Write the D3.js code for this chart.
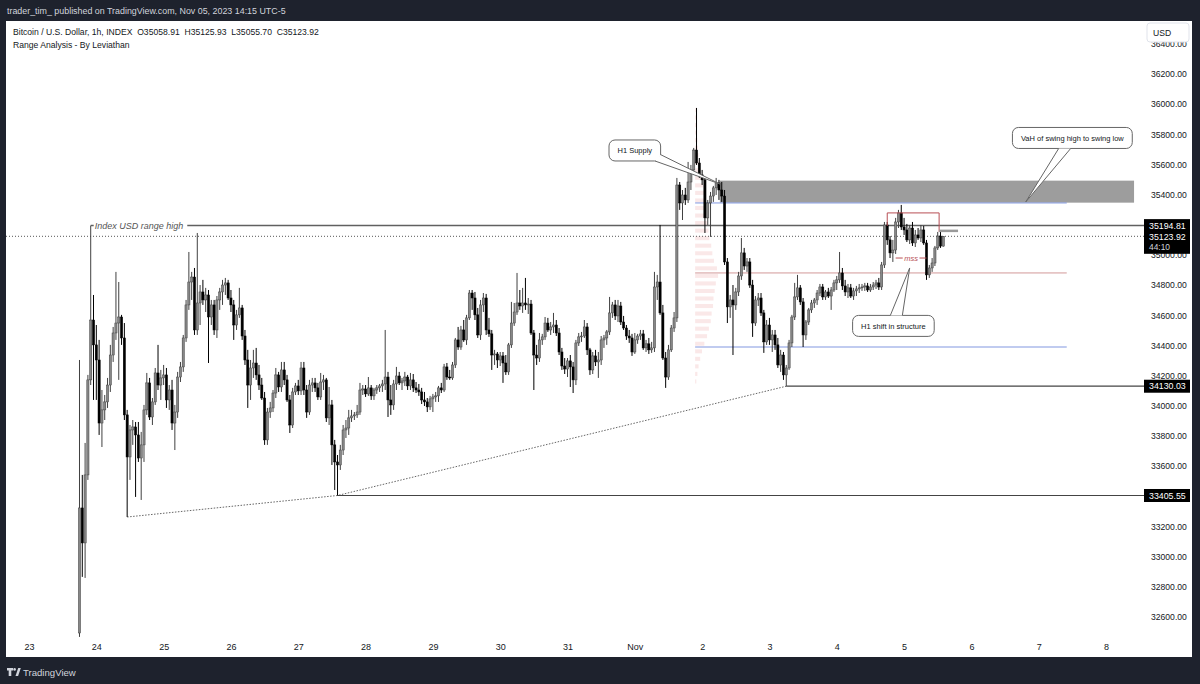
<!DOCTYPE html>
<html>
<head>
<meta charset="utf-8">
<script src="https://cdn.jsdelivr.net/npm/d3@7/dist/d3.min.js"></script>
<style>
  body { margin: 0; background: #1e222d; }
  svg { display: block; font-family: "Liberation Sans", Arial, sans-serif; }
</style>
</head>
<body>
<script>
// hourly candles [open, high, low, close], first one opens Oct 23 18:00 (chart time, UTC-5)
const firstCandle = "2023-10-23T18:00Z"
const ohlc = [
  [32494,34304,32468,33323],[33323,33542,32866,33091],[33091,33754,32859,33542],[33542,34205,33509,34172],[34172,35194.81,34138,34569],[34569,34735,34039,34404],
  [34404,34536,34039,34304],[34304,34437,33807,33886],[33886,34105,33727,33973],[33973,34072,33906,34026],[34026,34185,33986,34138],[34138,34404,34092,34337],
  [34337,34523,34291,34483],[34483,34888,34437,34549],[34549,34821,34172,34589],[34589,34603,34404,34450],[34450,34549,33906,33940],[33940,33973,33263,33661],
  [33661,33873,33509,33840],[33840,33906,33741,33860],[33860,33893,33396,33807],[33807,33893,33628,33654],[33654,33827,33376,33741],[33741,34006,33628,33973],
  [33973,34218,33940,34152],[34152,34185,33906,33926],[33926,34052,33873,34026],[34026,34251,34006,34218],[34218,34404,34105,34138],[34138,34238,34039,34185],
  [34185,34271,34138,34205],[34205,34251,33986,34039],[34039,34138,33973,34105],[34105,34172,33840,33886],[33886,34006,33707,33959],[33959,34225,33920,34191],
  [34191,34291,34158,34258],[34258,34470,34225,34450],[34450,34702,34424,34669],[34669,35020,34636,34821],[34821,34888,34702,34854],[34854,34914,34470,34503],
  [34503,35146,34470,34682],[34682,34801,34536,34755],[34755,34835,34669,34702],[34702,34782,34622,34735],[34735,34768,34284,34589],[34589,34702,34536,34669],
  [34669,34702,34470,34503],[34503,34728,34450,34702],[34702,34782,34636,34755],[34755,34835,34669,34801],[34801,34848,34735,34815],[34815,34835,34702,34715],
  [34715,34768,34622,34669],[34669,34702,34437,34536],[34536,34636,34503,34603],[34603,34782,34583,34649],[34649,34669,34437,34463],[34463,34503,34271,34304],
  [34304,34371,33986,34138],[34138,34304,34039,34251],[34251,34371,34185,34284],[34284,34384,34172,34205],[34205,34271,34105,34138],[34138,34185,34039,34052],
  [34052,34092,33741,33774],[33774,33986,33741,33959],[33959,34026,33920,33986],[33986,34105,33959,34085],[34085,34251,34052,34205],[34205,34225,34092,34125],
  [34125,34291,34092,34238],[34238,34291,34138,34172],[34172,34205,34026,34039],[34039,34072,33820,33873],[33873,34119,33853,34092],[34092,34152,34072,34132],
  [34132,34172,34072,34099],[34099,34291,34072,34251],[34251,34291,34072,34105],[34105,34138,33920,33959],[33959,34172,33940,34138],[34138,34185,34092,34152],
  [34152,34185,34092,34119],[34119,34152,34039,34059],[34059,34218,34039,34158],[34158,34205,34105,34172],[34172,34185,33893,33920],[33920,34125,33873,34006],
  [34006,34039,33608,33741],[33741,33774,33442,33628],[33628,33674,33405.55,33608],[33608,33741,33575,33707],[33707,33873,33674,33840],[33840,33906,33787,33853],
  [33853,33973,33807,33920],[33920,33973,33893,33933],[33933,33959,33906,33940],[33940,34006,33920,33959],[33959,34152,33940,34105],[34105,34138,34072,34112],
  [34112,34138,34059,34079],[34079,34191,34066,34119],[34119,34138,34039,34066],[34066,34119,34039,34105],[34105,34138,34079,34119],[34119,34145,34092,34132],
  [34132,34172,34092,34145],[34145,34503,34105,34191],[34191,34225,33926,34039],[34039,34138,33940,34006],[34006,34172,33973,34145],[34145,34258,34105,34198],
  [34198,34225,34138,34152],[34152,34185,34105,34165],[34165,34225,34132,34191],[34191,34205,34105,34132],[34132,34218,34105,34172],[34172,34211,34092,34119],
  [34119,34158,34085,34105],[34105,34145,34066,34092],[34092,34119,34012,34039],[34039,34092,33999,34026],[34026,34052,33959,33993],[33993,34066,33973,34046],
  [34046,34079,33959,34059],[34059,34092,34026,34066],[34066,34132,34026,34119],[34119,34152,34085,34105],[34105,34278,34092,34258],[34258,34284,34172,34191],
  [34191,34238,34172,34185],[34185,34291,34172,34271],[34271,34450,34251,34437],[34437,34523,34371,34390],[34390,34530,34371,34503],[34503,34569,34424,34437],
  [34437,34603,34404,34583],[34583,34768,34569,34748],[34748,34768,34636,34715],[34715,34755,34569,34603],[34603,34649,34450,34470],[34470,34702,34437,34669],
  [34669,34748,34622,34715],[34715,34742,34470,34503],[34503,34583,34457,34477],[34477,34503,34238,34337],[34337,34371,34271,34344],[34344,34357,34251,34304],
  [34304,34357,34264,34331],[34331,34357,34152,34284],[34284,34337,34205,34225],[34225,34417,34205,34404],[34404,34689,34384,34549],[34549,34682,34530,34622],
  [34622,34881,34603,34682],[34682,34768,34636,34662],[34662,34782,34616,34682],[34682,34848,34636,34669],[34669,34715,34609,34675],[34675,34702,34470,34483],
  [34483,34503,34105,34337],[34337,34404,34271,34317],[34317,34483,34291,34437],[34437,34477,34404,34457],[34457,34589,34437,34549],[34549,34583,34490,34503],
  [34503,34556,34470,34523],[34523,34616,34483,34536],[34536,34569,34463,34483],[34483,34516,34337,34357],[34357,34384,34238,34264],[34264,34317,34211,34244],
  [34244,34317,34191,34298],[34298,34337,34125,34258],[34258,34291,34085,34172],[34172,34437,34138,34417],[34417,34483,34397,34457],[34457,34490,34424,34463],
  [34463,34569,34450,34523],[34523,34549,34337,34371],[34371,34384,34205,34238],[34238,34357,34211,34331],[34331,34371,34264,34291],[34291,34357,34185,34304],
  [34304,34463,34271,34437],[34437,34470,34384,34450],[34450,34503,34404,34490],[34490,34722,34470,34616],[34616,34689,34583,34669],[34669,34702,34569,34596],
  [34596,34702,34556,34662],[34662,34689,34536,34556],[34556,34596,34503,34516],[34516,34536,34437,34463],[34463,34503,34417,34450],[34450,34477,34331,34357],
  [34357,34483,34344,34437],[34437,34477,34411,34463],[34463,34503,34437,34477],[34477,34503,34371,34384],[34384,34437,34357,34411],[34411,34450,34344,34371],
  [34371,34424,34351,34384],[34384,34888,34357,34788],[34788,34868,34702,34821],[34821,35199,34603,34616],[34616,34669,34304,34317],[34317,34357,34119,34191],
  [34191,34404,34172,34371],[34371,34536,34357,34516],[34516,34622,34490,34583],[34583,35511,34556,35464],[35464,35484,35299,35345],[35345,35431,35232,35398],
  [35398,35445,35332,35365],[35365,35617,35345,35484],[35484,35597,35431,35564],[35564,35710,35531,35696],[35696,35975,35597,35610],[35610,35643,35511,35531],
  [35531,35564,35464,35498],[35498,35511,35146,35246],[35246,35365,35199,35345],[35345,35418,35120,35391],[35391,35458,35352,35445],[35445,35511,35398,35478],
  [35478,35498,35365,35431],[35431,35484,35352,35391],[35391,35431,34934,34954],[34954,34980,34549,34656],[34656,34735,34583,34702],[34702,34801,34337,34669],
  [34669,34782,34636,34755],[34755,34888,34728,34861],[34861,35113,34835,35014],[35014,35047,34901,34927],[34927,34980,34888,34954],[34954,34980,34782,34801],
  [34801,34835,34457,34549],[34549,34728,34530,34702],[34702,34748,34662,34715],[34715,34748,34596,34616],[34616,34636,34351,34424],[34424,34569,34404,34536],
  [34536,34583,34404,34437],[34437,34503,34357,34470],[34470,34503,34371,34404],[34404,34450,34251,34271],[34271,34371,34225,34337],[34337,34357,34172,34205],
  [34205,34271,34130.03,34251],[34251,34437,34238,34417],[34417,34603,34390,34589],[34589,34815,34569,34722],[34722,34868,34702,34782],[34782,34801,34669,34689],
  [34689,34715,34390,34470],[34470,34569,34437,34556],[34556,34649,34536,34636],[34636,34702,34616,34682],[34682,34715,34649,34702],[34702,34768,34669,34748],
  [34748,34808,34728,34788],[34788,34808,34702,34722],[34722,34768,34702,34755],[34755,34782,34715,34728],[34728,34788,34636,34768],[34768,34835,34755,34815],
  [34815,34861,34768,34835],[34835,35020,34815,34881],[34881,34914,34768,34795],[34795,34835,34728,34755],[34755,34808,34715,34782],[34782,34808,34715,34728],
  [34728,34782,34702,34762],[34762,34795,34728,34775],[34775,34808,34748,34782],[34782,34808,34762,34788],[34788,34815,34762,34795],[34795,34815,34755,34768],
  [34768,34808,34755,34788],[34788,34821,34768,34801],[34801,34835,34775,34815],[34815,34848,34768,34788],[34788,34954,34768,34934],[34934,35219,34914,35199],
  [35199,35219,35067,35100],[35100,35126,34980,35014],[35014,35100,34954,35033],[35033,35246,35007,35219],[35219,35299,35179,35279],[35279,35332,35166,35186],
  [35186,35246,35133,35166],[35166,35206,35086,35100],[35100,35199,35073,35179],[35179,35219,35060,35080],[35080,35166,35053,35133],[35133,35179,35100,35113],
  [35113,35199,35086,35166],[35166,35193,35067,35080],[35080,35100,34835,34868],[34868,34934,34848,34914],[34914,34980,34888,34947],[34947,35060,34927,35047],
  [35047,35153,35033,35126],[35126,35153,35047,35059],[35058.91,35125.93,35055.70,35123.92]
]

const dayTicks = ["2023-10-23", "2023-10-24", "2023-10-25", "2023-10-26", "2023-10-27", "2023-10-28", "2023-10-29", "2023-10-30",
  "2023-10-31", "2023-11-01", "2023-11-02", "2023-11-03", "2023-11-04", "2023-11-05", "2023-11-06", "2023-11-07", "2023-11-08"]
const dayLabels = ["23", "24", "25", "26", "27", "28", "29", "30", "31", "Nov", "2", "3", "4", "5", "6", "7", "8"]
const priceTicks = [32600, 32800, 33000, 33200, 33400, 33600, 33800, 34000, 34200, 34400, 34600,
  34800, 35000, 35200, 35400, 35600, 35800, 36000, 36200, 36400]

const rangeHigh = {t: "2023-10-23T22:00Z", p: 35194.81, label: "Index USD range high"}
const lastPrice = 35123.92
const swingLows = [
  {t: "2023-10-24T11:00Z", p: 33263},
  {t: "2023-10-27T14:00Z", p: 33405.55},
  {t: "2023-11-03T06:00Z", p: 34130.03}
]
const supply = {from: "2023-11-02T06:20Z", to: "2023-11-08T10:00Z", top: 35493, bottom: 35347}
const valueArea = {from: "2023-11-01T21:30Z", to: "2023-11-07T10:00Z", vah: 35345, poc: 34881, val: 34390}
const vpPrices = [35950, 35900, 35850, 35800, 35750, 35700, 35650, 35600, 35550, 35500, 35450, 35400, 35350,
  35300, 35250, 35200, 35150, 35100, 35050, 35000, 34950, 34900, 34850, 34800, 34750, 34700, 34650,
  34600, 34550, 34500, 34450, 34400, 34350, 34300, 34250, 34200, 34150]
const vpVolumes = [3, 5, 6, 8, 10, 12, 15, 18, 22, 28, 35, 38, 42, 40, 45, 52, 58, 62, 70, 75, 82, 95, 100,
  90, 85, 80, 78, 72, 68, 60, 52, 40, 30, 22, 15, 10, 5]
const mssBox = {from: "2023-11-04T18:00Z", to: "2023-11-05T12:30Z", top: 35279, leftEnd: 35193, rightEnd: 35153}
const mss = {from: "2023-11-04T21:00Z", to: "2023-11-05T08:00Z", p: 34980, label: "mss"}
const projection = {from: "2023-11-05T12:30Z", to: "2023-11-05T19:15Z", p: 35160}
const callouts = [
  {text: "H1 Supply", t: "2023-11-01T00:00Z", p: 35693, tipT: "2023-11-02T06:20Z", tipP: 35471},
  {text: "VaH of swing high to swing low", t: "2023-11-07T12:00Z", p: 35776, tipT: "2023-11-06T19:24Z", tipP: 35352},
  {text: "H1 shift in structure", t: "2023-11-04T20:12Z", p: 34530, tipT: "2023-11-05T02:00Z", tipP: 34914}
]
const priceTags = [
  {p: 35194.81, text: "35194.81"},
  {p: 35123.92, text: "35123.92", sub: "44:10"},
  {p: 34130.03, text: "34130.03"},
  {p: 33405.55, text: "33405.55"}
]

const W = 1200, H = 684
const panel = {l: 6, t: 21, r: 1192, b: 657}
const plotR = 1144
const hour = 3600e3
const dt = s => new Date(s)

const svg = d3.select("body").append("svg").attr("width", W).attr("height", H)

svg.append("rect").attr("width", W).attr("height", H).attr("fill", "#1e222d")
svg.append("rect")
  .attr("x", panel.l).attr("y", panel.t)
  .attr("width", panel.r - panel.l).attr("height", panel.b - panel.t)
  .attr("fill", "#fff")

const x = d3.scaleUtc()
  .domain([dt("2023-10-23T00:00Z"), dt("2023-11-08T00:00Z")])
  .range([29, 1106])
const y = d3.scaleLinear()
  .domain([32600, 36200])
  .range([617, 74])

const candles = ohlc.map((d, i) => ({t: new Date(+dt(firstCandle) + i * hour), o: d[0], h: d[1], l: d[2], c: d[3]}))

// volume profile + value area
const vpW = d3.scaleLinear().domain([0, 100]).range([0, 23])
svg.append("g")
  .selectAll("rect")
  .data(vpPrices)
  .join("rect")
  .attr("x", x(dt(valueArea.from)))
  .attr("y", d => y(d + 25))
  .attr("height", d => y(d - 25) - y(d + 25) - 3.5)
  .attr("width", (d, i) => vpW(vpVolumes[i]))
  .attr("fill", "#f2c6c6")
  .attr("opacity", 0.4)

svg.append("rect")
  .attr("x", x(dt(supply.from)))
  .attr("y", y(supply.top))
  .attr("width", x(dt(supply.to)) - x(dt(supply.from)))
  .attr("height", y(supply.bottom) - y(supply.top))
  .attr("fill", "#9d9d9d")

const vaLines = [
  {p: valueArea.vah, color: "#8197e0"},
  {p: valueArea.poc, color: "#d29898"},
  {p: valueArea.val, color: "#8197e0"}
]
svg.append("g")
  .selectAll("line")
  .data(vaLines)
  .join("line")
  .attr("x1", x(dt(valueArea.from))).attr("x2", x(dt(valueArea.to)))
  .attr("y1", d => y(d.p)).attr("y2", d => y(d.p))
  .attr("stroke", d => d.color)
  .attr("stroke-width", 1)

// trend line through the swing lows
const lowLine = d3.line().x(d => x(dt(d.t))).y(d => y(d.p))
svg.append("path")
  .attr("d", lowLine(swingLows))
  .attr("fill", "none")
  .attr("stroke", "#666")
  .attr("stroke-width", 1)
  .attr("stroke-dasharray", "1.5,1.5")

// horizontal rays from the last two lows
svg.append("g")
  .selectAll("line")
  .data(swingLows.slice(1))
  .join("line")
  .attr("x1", d => x(dt(d.t))).attr("x2", plotR)
  .attr("y1", d => y(d.p)).attr("y2", d => y(d.p))
  .attr("stroke", "#444")
  .attr("stroke-width", 1.2)

svg.append("line")
  .attr("x1", panel.l).attr("x2", plotR)
  .attr("y1", y(lastPrice)).attr("y2", y(lastPrice))
  .attr("stroke", "#555")
  .attr("stroke-dasharray", "1,2")

svg.append("line")
  .attr("x1", x(dt(rangeHigh.t))).attr("x2", plotR)
  .attr("y1", y(rangeHigh.p)).attr("y2", y(rangeHigh.p))
  .attr("stroke", "#606060")
  .attr("stroke-width", 1.5)

// candles
const cg = svg.append("g")
cg.selectAll("line")
  .data(candles)
  .join("line")
  .attr("x1", d => x(d.t)).attr("x2", d => x(d.t))
  .attr("y1", d => y(d.h)).attr("y2", d => y(d.l))
  .attr("stroke", d => d.c >= d.o ? "#404040" : "#000")
  .attr("stroke-width", 1)

cg.selectAll("rect")
  .data(candles)
  .join("rect")
  .attr("x", d => x(d.t) - 1.1)
  .attr("width", 2.2)
  .attr("y", d => y(Math.max(d.o, d.c)))
  .attr("height", d => Math.max(0.8, Math.abs(y(d.o) - y(d.c))))
  .attr("fill", d => d.c >= d.o ? "#878787" : "#000")
  .attr("stroke", d => d.c >= d.o ? "#404040" : "#000")
  .attr("stroke-width", 0.5)

// range high label sits on its own line
const rhx = x(dt(rangeHigh.t)) + 3
const rhText = svg.append("text")
  .attr("x", rhx + 1).attr("y", y(rangeHigh.p) + 3)
  .attr("font-size", 9)
  .attr("font-style", "italic")
  .attr("fill", "#555")
  .text(rangeHigh.label)
const rhW = rhText.node().getComputedTextLength()
svg.insert("rect", "text")
  .attr("x", rhx).attr("y", y(rangeHigh.p) - 3)
  .attr("width", rhW + 5).attr("height", 6)
  .attr("fill", "#fff")

// mss drawing
const mssColor = "#b84f55"
svg.append("path")
  .attr("d", `M${x(dt(mssBox.from))},${y(mssBox.leftEnd)}V${y(mssBox.top)}H${x(dt(mssBox.to))}V${y(mssBox.rightEnd)}`)
  .attr("fill", "none")
  .attr("stroke", mssColor)
  .attr("stroke-width", 1)
svg.append("line")
  .attr("x1", x(dt(mssBox.to))).attr("x2", x(dt(projection.to)))
  .attr("y1", y(projection.p)).attr("y2", y(projection.p))
  .attr("stroke", "#9a9a9a")
  .attr("stroke-width", 2.5)

const mx1 = x(dt(mss.from)), mx2 = x(dt(mss.to)), my = y(mss.p)
svg.append("line")
  .attr("x1", mx1).attr("x2", mx2)
  .attr("y1", my).attr("y2", my)
  .attr("stroke", mssColor)
const mssText = svg.append("text")
  .attr("x", (mx1 + mx2) / 2).attr("y", my + 2.5)
  .attr("text-anchor", "middle")
  .attr("font-size", 7.5)
  .attr("font-style", "italic")
  .attr("fill", mssColor)
  .text(mss.label)
const mw = mssText.node().getComputedTextLength()
svg.insert("rect", "text:last-of-type")
  .attr("x", (mx1 + mx2) / 2 - mw / 2 - 1.5).attr("y", my - 3)
  .attr("width", mw + 3).attr("height", 6)
  .attr("fill", "#fff")

// callouts
const tailBase = (cx, cy, hw, hh, dx, dy) => {
  const tX = hw / Math.abs(dx || 1e-9), tY = hh / Math.abs(dy || 1e-9)
  const pts = []
  if (tX < tY) {
    const ex = cx + Math.sign(dx) * hw, py = cy + dy * tX
    for (const o of [-6, 6]) {
      let yy = py + o, xx = ex
      if (yy > cy + hh) { xx = ex - Math.sign(dx) * (yy - cy - hh); yy = cy + hh }
      if (yy < cy - hh) { xx = ex - Math.sign(dx) * (cy - hh - yy); yy = cy - hh }
      pts.push([xx, yy])
    }
  } else {
    const ey = cy + Math.sign(dy) * hh, px = cx + dx * tY
    for (const o of [-6, 6]) {
      let xx = px + o, yy = ey
      if (xx > cx + hw) { yy = ey - Math.sign(dy) * (xx - cx - hw); xx = cx + hw }
      if (xx < cx - hw) { yy = ey - Math.sign(dy) * (cx - hw - xx); xx = cx - hw }
      pts.push([xx, yy])
    }
  }
  return pts
}

callouts.forEach(c => {
  const cx = x(dt(c.t)), cy = y(c.p)
  const tx = x(dt(c.tipT)), ty = y(c.tipP)
  const g = svg.append("g")
  const label = g.append("text")
    .attr("x", cx).attr("y", cy + 2.7)
    .attr("text-anchor", "middle")
    .attr("font-size", 7.5)
    .attr("fill", "#131722")
    .text(c.text)
  const w = label.node().getComputedTextLength() + 17, h = 21
  g.insert("rect", "text")
    .attr("x", cx - w / 2).attr("y", cy - h / 2)
    .attr("width", w).attr("height", h)
    .attr("rx", 6)
    .attr("fill", "#fff")
    .attr("stroke", "#666")
  const [b1, b2] = tailBase(cx, cy, w / 2, h / 2, tx - cx, ty - cy)
  g.insert("path", "text")
    .attr("d", `M${b1}L${tx},${ty}L${b2}Z`)
    .attr("fill", "#fff")
  g.insert("path", "text")
    .attr("d", `M${b1}L${tx},${ty}L${b2}`)
    .attr("fill", "none")
    .attr("stroke", "#666")
})

// axes
const xAxis = d3.axisBottom(x)
  .tickValues(dayTicks.map(d => dt(d + "T00:00Z")))
  .tickFormat((d, i) => dayLabels[i])
  .tickSize(0)
  .tickPadding(3)
svg.append("g")
  .attr("transform", "translate(0,641)")
  .call(xAxis)
  .call(g => g.select(".domain").remove())
  .call(g => g.selectAll("text").attr("fill", "#131722").attr("font-size", 9).attr("font-family", "Liberation Sans, Arial, sans-serif"))

const yAxis = d3.axisRight(y)
  .tickValues(priceTicks)
  .tickFormat(d3.format(".2f"))
  .tickSize(0)
  .tickPadding(0)
svg.append("g")
  .attr("transform", "translate(1151,0)")
  .call(yAxis)
  .call(g => g.select(".domain").remove())
  .call(g => g.selectAll("text").attr("fill", "#131722").attr("font-size", 8.6).attr("font-family", "Liberation Sans, Arial, sans-serif"))

// currency box covers the top label
svg.append("rect")
  .attr("x", 1147).attr("y", 23)
  .attr("width", 42).attr("height", 19)
  .attr("rx", 3)
  .attr("fill", "#fff")
  .attr("stroke", "#e0e3eb")
svg.append("text")
  .attr("x", 1153).attr("y", 36)
  .attr("font-size", 8.6)
  .attr("fill", "#131722")
  .text("USD")

// price tags
const tags = svg.append("g")
priceTags.forEach(d => {
  const ty = y(d.p)
  tags.append("rect")
    .attr("x", plotR).attr("y", ty - 6.5)
    .attr("width", 46).attr("height", d.sub ? 24 : 13)
    .attr("fill", "#000")
  tags.append("text")
    .attr("x", plotR + 5).attr("y", ty + 3.2)
    .attr("font-size", 8.8)
    .attr("fill", "#fff")
    .text(d.text)
  if (d.sub) {
    tags.append("text")
      .attr("x", plotR + 5).attr("y", ty + 14)
      .attr("font-size", 8.4)
      .attr("fill", "#d1d4dc")
      .text(d.sub)
  }
})

// legend and frame texts
svg.append("text")
  .attr("x", 7).attr("y", 14)
  .attr("font-size", 8.9)
  .attr("fill", "#d1d4dc")
  .text("trader_tim_ published on TradingView.com, Nov 05, 2023 14:15 UTC-5")

svg.append("text")
  .attr("x", 13).attr("y", 35)
  .attr("font-size", 8.6)
  .attr("fill", "#131722")
  .style("white-space", "pre")
  .text("Bitcoin / U.S. Dollar, 1h, INDEX  O35058.91  H35125.93  L35055.70  C35123.92")
svg.append("text")
  .attr("x", 13).attr("y", 48)
  .attr("font-size", 8.6)
  .attr("fill", "#131722")
  .text("Range Analysis - By Leviathan")

const logo = svg.append("g").attr("fill", "#d1d4dc")
logo.append("path").attr("d", "M7,668H13V670.5H11.3V676H8.7V670.5H7Z")
logo.append("circle").attr("cx", 14.6).attr("cy", 669.4).attr("r", 1.3)
logo.append("path").attr("d", "M15.5,676L18.2,668H20.8L18.1,676Z")
svg.append("text")
  .attr("x", 23).attr("y", 676)
  .attr("font-size", 9.6)
  .attr("fill", "#d1d4dc")
  .text("TradingView")
</script>
</body>
</html>
